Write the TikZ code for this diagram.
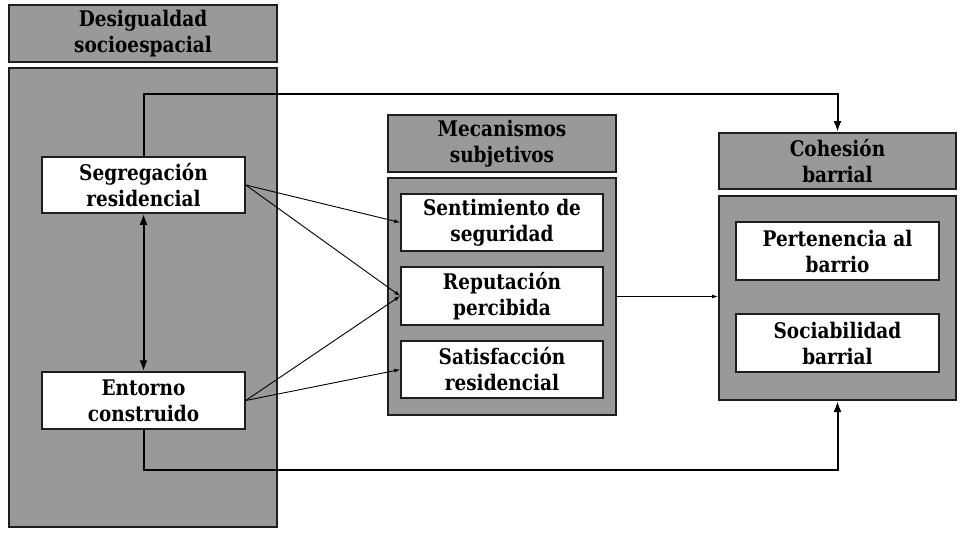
\documentclass[tikz,border=0pt]{standalone}
\usepackage{fontspec}
\setmainfont{DejaVu Serif}[FakeStretch=0.86]
\usetikzlibrary{arrows.meta}
\definecolor{graybg}{RGB}{153,153,153}
\definecolor{edge}{RGB}{30,30,30}
\begin{document}
\begin{tikzpicture}[x=1pt,y=-1pt,
  lbl/.style={align=center, font=\bfseries\fontsize{21.5}{26}\selectfont, text=black},
  graybox/.style={draw=edge, line width=2pt, fill=graybg, inner sep=0pt, lbl},
  whitebox/.style={draw=edge, line width=1.5pt, fill=white, inner sep=0pt, lbl},
  loopline/.style={draw=black, line width=2pt, -{Latex[length=11pt,width=8pt]}},
  thinline/.style={draw=black, line width=0.9pt, -{Latex[length=6pt,width=4pt]}},
  dblline/.style={draw=black, line width=2pt, {Latex[length=11pt,width=8pt]}-{Latex[length=11pt,width=8pt]}}]
\useasboundingbox (0,0) rectangle (962,533);
% left column
\node[graybox, minimum width=268pt, minimum height=57pt] (desT) at (143,33.5) {Desigualdad\\socioespacial};
\node[graybox, minimum width=268pt, minimum height=459pt] (desB) at (143,297.5) {};
\node[whitebox, minimum width=203pt, minimum height=56pt] (seg) at (143.5,185) {Segregación\\residencial};
\node[whitebox, minimum width=203pt, minimum height=57pt] (ent) at (143.5,400.5) {Entorno\\construido};
% middle column
\node[graybox, minimum width=228pt, minimum height=57pt] (mecT) at (502,143.5) {Mecanismos\\subjetivos};
\node[graybox, minimum width=228pt, minimum height=237pt] (mecB) at (502,296.5) {};
\node[whitebox, minimum width=202pt, minimum height=57pt] (sen) at (502,222.5) {Sentimiento de\\seguridad};
\node[whitebox, minimum width=202pt, minimum height=58pt] (rep) at (502,296) {Reputación\\percibida};
\node[whitebox, minimum width=202pt, minimum height=57pt] (sat) at (502,369.5) {Satisfacción\\residencial};
% right column
\node[graybox, minimum width=237pt, minimum height=56pt] (cohT) at (837.5,161) {Cohesión\\barrial};
\node[graybox, minimum width=237pt, minimum height=204pt] (cohB) at (837.5,298) {};
\node[whitebox, minimum width=203pt, minimum height=58pt] (per) at (837.5,251) {Pertenencia al\\barrio};
\node[whitebox, minimum width=203pt, minimum height=58pt] (soc) at (837.5,343) {Sociabilidad\\barrial};
% connectors
\draw[loopline] (seg.north) -- ++(0,-62) -| (cohT.north);
\draw[loopline] (ent.south) -- ++(0,40) -| (cohB.south);
\draw[dblline] (seg.south) -- (ent.north);
\draw[thinline] (seg.east) -- (sen.west);
\draw[thinline] (seg.east) -- (rep.west);
\draw[thinline] (ent.east) -- (rep.west);
\draw[thinline] (ent.east) -- (sat.west);
\draw[thinline] (mecB.east) -- (mecB.east -| cohB.west);
\end{tikzpicture}
\end{document}
